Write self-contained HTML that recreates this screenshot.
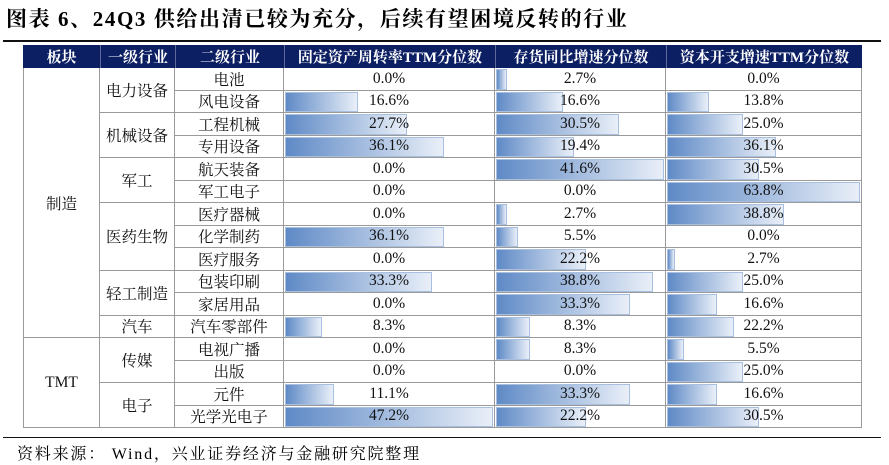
<!DOCTYPE html>
<html><head><meta charset="utf-8">
<style>
body{margin:0;width:889px;height:465px;background:#fff;position:relative;overflow:hidden;font-family:"Liberation Serif","Noto Serif CJK SC",serif;}
.abs{position:absolute;box-sizing:border-box;}
.cell{position:absolute;box-sizing:border-box;display:flex;align-items:center;justify-content:center;font-size:15.5px;color:#111;}
.hd{background:#0c1f63;color:#fff;font-weight:bold;font-size:15px;}
.bar{position:absolute;box-sizing:border-box;background:linear-gradient(to right,#5f8ac6,#e9eff8);border:1px solid #a9bfe0;}
</style></head><body>
<div class="abs" style="left:6px;top:3px;font-size:21px;letter-spacing:1.6px;font-weight:bold;white-space:nowrap;">图表 6、24Q3 供给出清已较为充分，后续有望困境反转的行业</div>
<div class="abs" style="left:3px;top:40px;width:878px;height:2px;background:#111;"></div>
<div id="tbl"></div>
<div class="abs" style="left:3px;top:437px;width:878px;height:1px;background:#111;"></div>
<div class="abs" style="left:17px;top:441px;font-size:16px;letter-spacing:1.8px;white-space:nowrap;">资料来源： Wind，兴业证券经济与金融研究院整理</div>
<script>
const headers=["板块","一级行业","二级行业","固定资产周转率TTM分位数","存货同比增速分位数","资本开支增速TTM分位数"];
const sectors=[["制造",12],["TMT",4]];
const industries=[["电力设备",2],["机械设备",2],["军工",2],["医药生物",3],["轻工制造",2],["汽车",1],["传媒",2],["电子",2]];
const subs=["电池","风电设备","工程机械","专用设备","航天装备","军工电子","医疗器械","化学制药","医疗服务","包装印刷","家居用品","汽车零部件","电视广播","出版","元件","光学光电子"];
const fixedAsset=[0,16.6,27.7,36.1,0,0,0,36.1,0,33.3,0,8.3,0,0,11.1,47.2];
const inventory=[2.7,16.6,30.5,19.4,41.6,0,2.7,5.5,22.2,38.8,33.3,8.3,8.3,0,33.3,22.2];
const capex=[0,13.8,25.0,36.1,30.5,63.8,38.8,0,2.7,25.0,16.6,22.2,5.5,25.0,16.6,30.5];

const T=document.getElementById('tbl');
const xs=[23,100,175,284,495,666,862];
const top0=45,hh=23,rh=22.5;
const line='1px solid #9a9a9a';
function cell(x0,x1,y0,y1,txt,cls){
  const d=document.createElement('div');
  d.className='cell '+(cls||'');
  d.style.left=x0+'px';d.style.top=y0+'px';d.style.width=(x1-x0)+'px';d.style.height=(y1-y0)+'px';
  d.textContent=txt;T.appendChild(d);return d;
}
headers.forEach((h,i)=>{
  const c=cell(xs[i],xs[i+1],top0,top0+hh,h,'hd');
  
  
  if(i>0)c.style.borderLeft='1px solid #ffffff55';
});
const y0=top0+hh;
const rowY=i=>y0+i*rh;
let r=0;
sectors.forEach(s=>{
  const c=cell(xs[0],xs[1],rowY(r),rowY(r+s[1]),s[0]);
  
  
  c.style.borderLeft=line;c.style.borderRight=line;c.style.borderBottom=line;
  r+=s[1];
});
r=0;
industries.forEach(s=>{
  const c=cell(xs[1],xs[2],rowY(r),rowY(r+s[1]),s[0]);
  
  
  c.style.borderRight=line;c.style.borderBottom=line;
  r+=s[1];
});
const cols=[fixedAsset,inventory,capex];
subs.forEach((n,i)=>{
  const c=cell(xs[2],xs[3],rowY(i),rowY(i+1),n);
  
  
  c.style.borderRight=line;c.style.borderBottom=line;
  cols.forEach((arr,k)=>{
    const mx=Math.max(...arr);
    const x0=xs[3+k],x1=xs[4+k];
    const v=arr[i];
    if(v>0){
      const b=document.createElement('div');
      b.className='bar';
      
      
      const w=(x1-x0-3)*v/mx;
      b.style.left=(x0+1)+'px';b.style.top=(rowY(i)+1)+'px';
      b.style.width=Math.max(w,3)+'px';b.style.height=(rh-2)+'px';
      T.appendChild(b);
    }
    const t=cell(x0,x1,rowY(i),rowY(i+1),v.toFixed(1)+'%');
    
    
    t.style.borderRight=line;t.style.borderBottom=line;
  });
});
</script>
</body></html>
